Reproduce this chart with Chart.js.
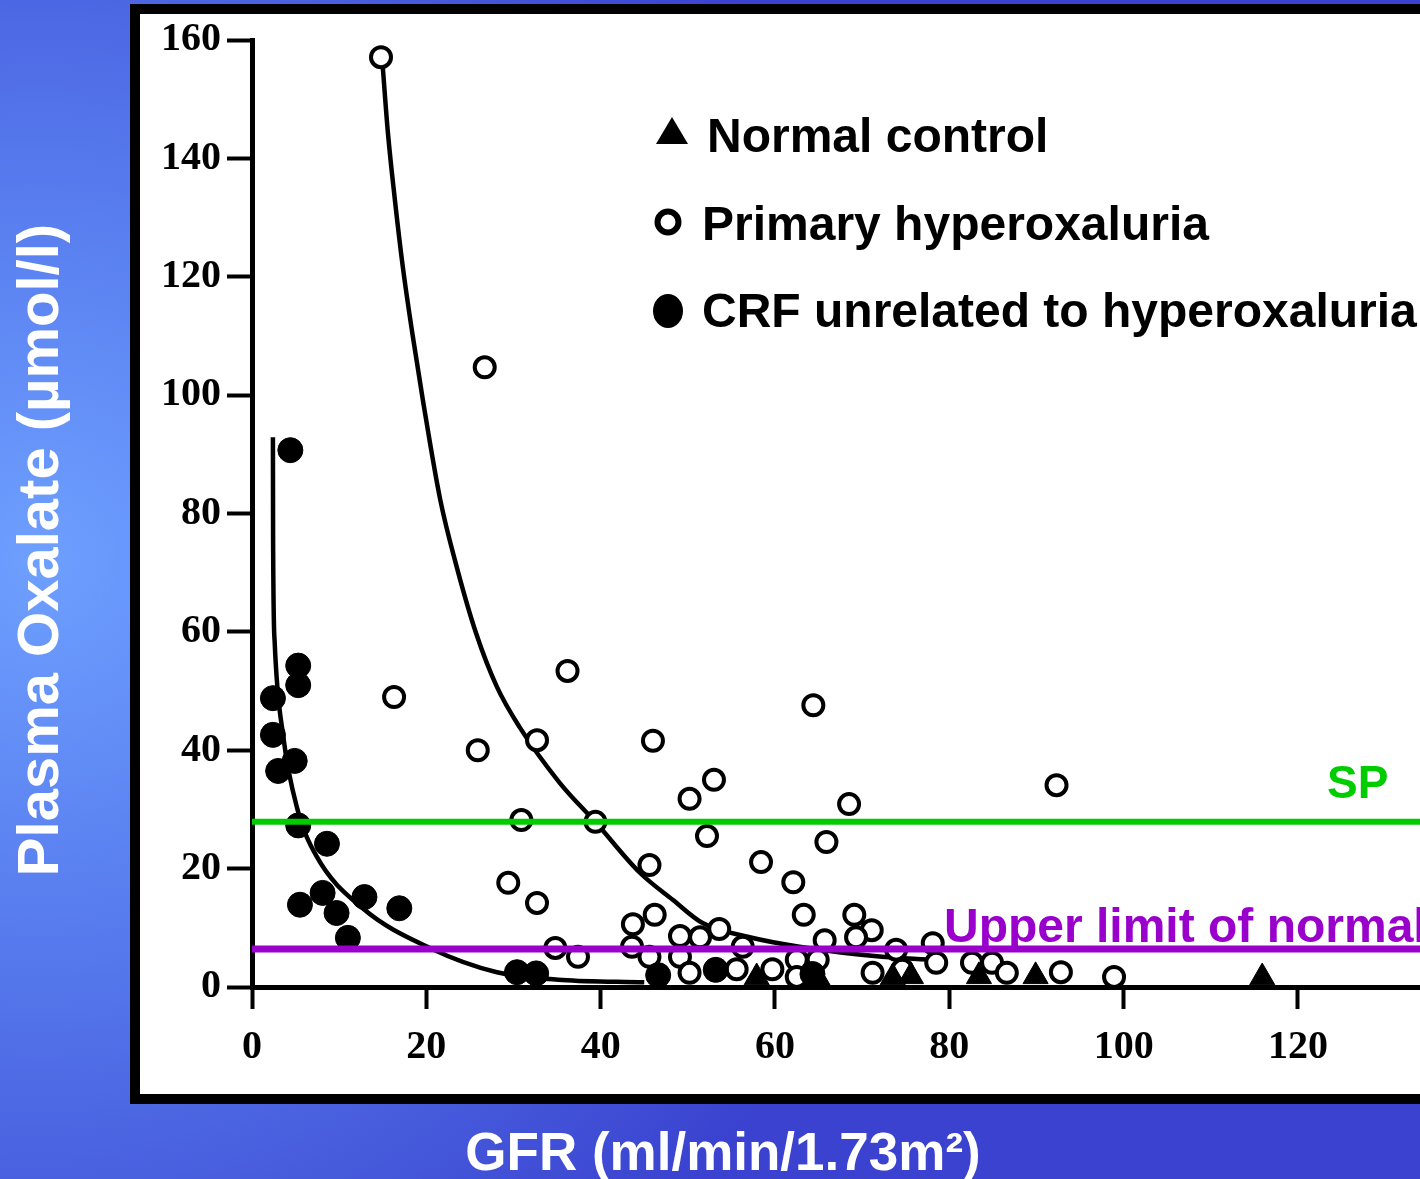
<!DOCTYPE html>
<html>
<head>
<meta charset="utf-8">
<script src="https://cdn.jsdelivr.net/npm/chart.js@4.4.1/dist/chart.umd.min.js"></script>
<style>
  html, body { margin: 0; padding: 0; background: #3a42cf; }
  #wrap { width: 1420px; height: 1179px; }
</style>
</head>
<body>
<div id="wrap"><canvas id="chart" width="1420" height="1179"></canvas></div>
<script>
// axis ticks
const xTicks = [0, 20, 40, 60, 80, 100, 120];
const yTicks = [0, 20, 40, 60, 80, 100, 120, 140, 160];

// primary hyperoxaluria (open circles)
const phGfr = [14.8, 26.7, 16.3, 36.2, 25.9, 32.7, 46.0, 64.4, 92.3, 53.0, 50.2, 68.5, 30.9, 39.4, 52.2,
  65.9, 45.6, 58.4, 29.4, 32.7, 62.1, 63.3, 46.2, 43.7, 69.1, 71.1, 34.8, 37.4, 43.6, 45.6,
  49.1, 51.4, 53.6, 49.1, 50.2, 55.6, 56.3, 59.7, 62.5, 62.5, 64.9, 65.7, 69.3, 71.2, 73.9,
  74.6, 78.1, 78.5, 82.6, 84.9, 86.6, 92.8, 98.9];
const phOx = [157.1, 104.7, 49.0, 53.4, 40.0, 41.7, 41.6, 47.6, 34.1, 35.0, 31.8, 30.9, 28.2, 27.9, 25.5,
  24.5, 20.6, 21.1, 17.6, 14.2, 17.7, 12.2, 12.2, 10.6, 12.2, 9.6, 6.6, 5.1, 6.8, 5.1,
  8.6, 8.4, 9.8, 5.1, 2.4, 3.0, 6.8, 3.0, 4.6, 1.7, 4.6, 7.9, 8.4, 2.4, 6.3,
  2.9, 7.4, 4.1, 4.1, 4.1, 2.4, 2.5, 1.7];

// CRF unrelated to hyperoxaluria (filled circles)
const crfGfr = [4.4, 5.3, 5.3, 2.4, 2.4, 4.9, 3.0, 5.3, 8.6, 5.5, 8.1, 9.7, 12.9, 11.0, 16.9, 30.4, 32.6, 46.6, 53.2, 64.3];
const crfOx = [90.7, 54.3, 51.0, 48.8, 42.6, 38.2, 36.5, 27.3, 24.2, 13.9, 15.9, 12.5, 15.2, 8.3, 13.3, 2.5, 2.3, 2.0, 2.9, 2.2];

// normal controls (triangles)
const normGfr = [57.9, 64.9, 73.5, 75.6, 83.4, 89.9, 115.9];
const normOx = [1.6, 1.5, 1.6, 1.8, 1.8, 1.8, 1.6];

// fitted curves
const phCurveGfr = [15.0, 15.6, 16.4, 17.3, 18.4, 19.6, 21.6, 23.5, 25.7, 28.1, 30.7, 35.3, 39.5, 44.5, 48.3, 51.7, 57.1, 62.8, 72.3, 79.0];
const phCurveOx = [155.5, 144.2, 132.9, 121.7, 110.4, 99.2, 82.3, 70.9, 59.8, 50.7, 43.9, 34.5, 27.7, 19.3, 14.7, 10.8, 8.4, 6.8, 5.1, 4.5];
const crfCurveGfr = [2.40, 2.42, 2.6, 3.6, 5.2, 7.4, 12.7, 20.4, 28.1, 35.6, 45.0];
const crfCurveOx = [92.9, 75.7, 58.3, 42.2, 30.1, 22.1, 13.3, 6.6, 2.5, 1.2, 0.8];

// reference levels
const spLevel = 27.9;
const ulnLevel = 6.4;

const X_MAX = 134;
const pairs = (xs, ys) => xs.map((x, i) => ({ x, y: ys[i] }));

const frame = {
  id: 'frame',
  beforeDraw(chart) {
    const { ctx, width, height } = chart;
    ctx.save();
    const g = ctx.createRadialGradient(40, 560, 0, 40, 560, 900);
    g.addColorStop(0, '#6ea0ff');
    g.addColorStop(0.45, '#5578ec');
    g.addColorStop(1, '#3a42cf');
    ctx.fillStyle = g;
    ctx.fillRect(0, 0, width, height);
    ctx.fillStyle = '#000';
    ctx.fillRect(130, 4, width - 130, 1100);
    ctx.fillStyle = '#fff';
    ctx.fillRect(140, 14, width - 140, 1080);
    ctx.restore();
  }
};

const labels = {
  id: 'labels',
  afterDraw(chart) {
    const { ctx } = chart;
    const ys = chart.scales.y;
    ctx.save();

    // legend
    ctx.fillStyle = '#000';
    ctx.font = 'bold 48px "Liberation Sans", Arial, sans-serif';
    ctx.textBaseline = 'alphabetic';
    ctx.textAlign = 'left';
    ctx.beginPath();
    ctx.moveTo(672, 117); ctx.lineTo(688, 144); ctx.lineTo(656, 144); ctx.closePath();
    ctx.fill();
    ctx.fillText('Normal control', 707, 152);
    ctx.beginPath();
    ctx.arc(668, 222, 10.5, 0, Math.PI * 2);
    ctx.lineWidth = 6; ctx.strokeStyle = '#000'; ctx.stroke();
    ctx.fillText('Primary hyperoxaluria', 702, 240);
    ctx.beginPath();
    ctx.ellipse(668, 311, 15, 17, 0, 0, Math.PI * 2);
    ctx.fill();
    ctx.fillText('CRF unrelated to hyperoxaluria', 702, 327);

    // reference level labels
    ctx.font = 'bold 46px "Liberation Sans", Arial, sans-serif';
    ctx.fillStyle = '#00cc00';
    ctx.fillText('SP', 1327, ys.getPixelForValue(spLevel) - 24);
    ctx.font = 'bold 48px "Liberation Sans", Arial, sans-serif';
    ctx.fillStyle = '#9900cc';
    ctx.fillText('Upper limit of normal', 944, ys.getPixelForValue(ulnLevel) - 7);

    // axis titles
    ctx.fillStyle = '#fff';
    ctx.textAlign = 'center';
    ctx.font = 'bold 53px "Liberation Sans", Arial, sans-serif';
    ctx.fillText('GFR (ml/min/1.73m²)', 723, 1170);
    ctx.translate(58, 550);
    ctx.rotate(-Math.PI / 2);
    ctx.font = 'bold 58px "Liberation Sans", Arial, sans-serif';
    ctx.fillText('Plasma Oxalate (µmol/l)', 0, 0);
    ctx.restore();
  }
};

const tickFont = { family: '"Liberation Serif", "Times New Roman", serif', size: 40, weight: 'bold' };

new Chart(document.getElementById('chart'), {
  type: 'scatter',
  data: {
    datasets: [
      {
        label: 'SP',
        data: [{ x: 0, y: spLevel }, { x: X_MAX, y: spLevel }],
        showLine: true, borderColor: '#00cc00', borderWidth: 6, pointRadius: 0
      },
      {
        label: 'Upper limit of normal',
        data: [{ x: 0, y: ulnLevel }, { x: X_MAX, y: ulnLevel }],
        showLine: true, borderColor: '#9900cc', borderWidth: 7, pointRadius: 0
      },
      {
        label: 'Normal control',
        data: pairs(normGfr, normOx),
        pointStyle: 'triangle', pointRadius: 14.5,
        backgroundColor: '#000', borderColor: '#000', borderWidth: 1, clip: false
      },
      {
        label: 'CRF unrelated to hyperoxaluria',
        data: pairs(crfGfr, crfOx),
        pointStyle: 'circle', pointRadius: 12.5,
        backgroundColor: '#000', borderColor: '#000', borderWidth: 1, clip: false
      },
      {
        label: 'Primary hyperoxaluria',
        data: pairs(phGfr, phOx),
        pointStyle: 'circle', pointRadius: 10,
        backgroundColor: '#fff', borderColor: '#000', borderWidth: 4, clip: false
      },
      {
        label: 'PH curve',
        data: pairs(phCurveGfr, phCurveOx),
        showLine: true, borderColor: '#000', borderWidth: 4.5, pointRadius: 0,
        cubicInterpolationMode: 'monotone'
      },
      {
        label: 'CRF curve',
        data: pairs(crfCurveGfr, crfCurveOx),
        showLine: true, borderColor: '#000', borderWidth: 4.5, pointRadius: 0,
        cubicInterpolationMode: 'monotone'
      }
    ]
  },
  options: {
    responsive: false,
    animation: false,
    layout: { autoPadding: false, padding: { top: 40, right: 0, left: 0, bottom: 0 } },
    plugins: { legend: { display: false }, tooltip: { enabled: false } },
    scales: {
      x: {
        type: 'linear', min: 0, max: X_MAX,
        afterBuildTicks: s => { s.ticks = xTicks.map(v => ({ value: v })); },
        afterFit: s => { s.height = 192; s.paddingRight = 0; s.paddingLeft = 0; },
        grid: { drawOnChartArea: false, color: '#000', tickLength: 22, tickWidth: 4 },
        border: { color: '#000', width: 5 },
        ticks: { color: '#000', font: tickFont, padding: 15, maxRotation: 0 }
      },
      y: {
        type: 'linear', min: 0, max: 160,
        afterBuildTicks: s => { s.ticks = yTicks.map(v => ({ value: v })); },
        afterFit: s => { s.width = 252; s.paddingTop = 0; s.paddingBottom = 0; },
        grid: { drawOnChartArea: false, color: '#000', tickLength: 25, tickWidth: 4 },
        border: { color: '#000', width: 5 },
        ticks: { color: '#000', font: tickFont, padding: 6 }
      }
    }
  },
  plugins: [frame, labels]
});
</script>
</body>
</html>
